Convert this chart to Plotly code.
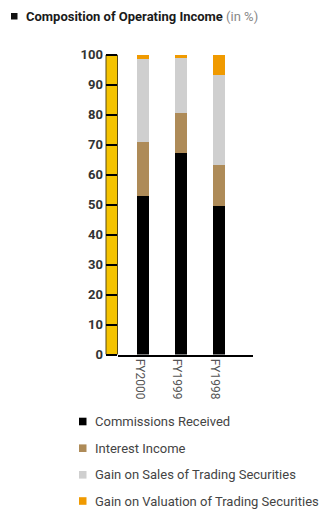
import plotly.graph_objects as go

W, H = 322, 509

# Data
years = ["FY2000", "FY1999", "FY1998"]
series_names = [
    "Commissions Received",
    "Interest Income",
    "Gain on Sales of Trading Securities",
    "Gain on Valuation of Trading Securities",
]
commissions = [53.0, 67.2, 49.5]
interest = [18.0, 13.5, 13.8]
gain_sales = [27.6, 18.4, 29.9]
gain_valuation = [1.4, 0.9, 6.8]
y_ticks = [0, 10, 20, 30, 40, 50, 60, 70, 80, 90, 100]

# Style
colors = ["#000000", "#AE8B58", "#CFCFCF", "#F09A00"]
ruler_color = "#F5C300"
font = "Roboto"


def px(x):
    return x / W


def py(y):
    return 1 - y / H


fig = go.Figure()
for name, vals, col in zip(series_names,
                           [commissions, interest, gain_sales, gain_valuation],
                           colors):
    fig.add_trace(go.Bar(x=list(range(len(years))), y=vals, name=name,
                         marker=dict(color=col, line=dict(width=0)),
                         width=0.32, showlegend=False))

shapes = []
# yellow ruler along the value axis
shapes.append(dict(type="rect", xref="paper", yref="y",
                   x0=px(106), x1=px(117.5), y0=0, y1=100,
                   fillcolor=ruler_color, line=dict(color="#5a4a10", width=1),
                   layer="below"))

annotations = []
# title
shapes.append(dict(type="rect", xref="paper", yref="paper",
                   x0=px(11), x1=px(17.5), y0=py(19.5), y1=py(13),
                   fillcolor="#111111", line=dict(width=0)))
annotations.append(dict(
    xref="paper", yref="paper", x=px(24), y=py(16.5), xanchor="left",
    yanchor="middle", showarrow=False,
    text="<b>Composition of Operating Income</b> <span style='color:#888888'>(in %)</span>",
    font=dict(family=font, size=13, color="#1a1a1a")))

# legend rows
row_y = [421.5, 448.2, 474.8, 501]
for name, col, yy in zip(series_names, colors, row_y):
    shapes.append(dict(type="rect", xref="paper", yref="paper",
                       x0=px(79), x1=px(86.5), y0=py(yy + 3.8), y1=py(yy - 3.8),
                       fillcolor=col, line=dict(width=0)))
    annotations.append(dict(xref="paper", yref="paper", x=px(93), y=py(yy),
                            xanchor="left", yanchor="middle", showarrow=False,
                            text=name,
                            font=dict(family=font, size=13, color="#444444")))

fig.update_layout(
    width=W, height=H,
    margin=dict(l=0, r=0, t=0, b=0, pad=0, autoexpand=False),
    paper_bgcolor="white", plot_bgcolor="white",
    barmode="stack", bargap=0,
    shapes=shapes, annotations=annotations,
    xaxis=dict(domain=[px(117.5), px(253)],
               range=[-0.66, 2.92],
               tickmode="array", tickvals=list(range(len(years))),
               ticktext=years, tickangle=90,
               tickfont=dict(family=font, size=12, color="#555555"),
               ticks="", showgrid=False, zeroline=False,
               showline=True, linecolor="#000000", linewidth=1.5,
               ticklabelshift=-3, automargin=False),
    yaxis=dict(domain=[py(354.5), py(54.7)],
               range=[0, 100],
               tickmode="array", tickvals=y_ticks,
               tickfont=dict(family=font, size=13, color="#333333",
                             weight="bold"),
               ticks="outside", ticklen=11, tickwidth=1.5,
               tickcolor="#000000", showgrid=False, zeroline=False,
               showline=False, automargin=False),
)

fig.write_html("out.html")
